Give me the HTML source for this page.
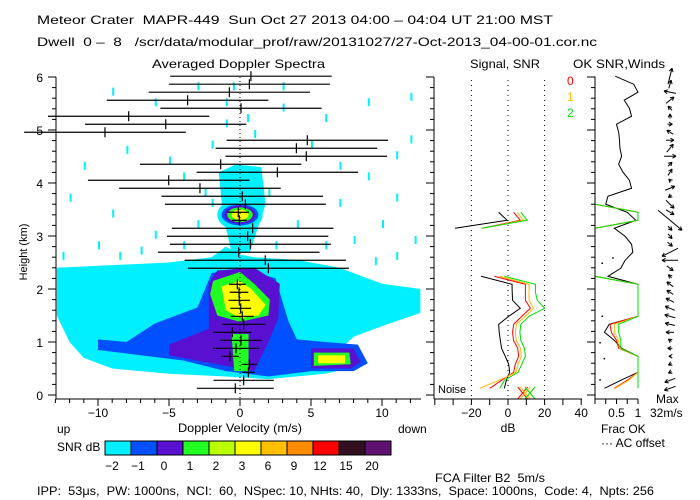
<!DOCTYPE html>
<html><head><meta charset="utf-8"><style>
html,body{margin:0;padding:0;background:#fff}
svg{display:block}
text{font-family:"Liberation Sans",sans-serif;font-size:12px;fill:#000;white-space:pre}
</style></head><body>
<svg id="c" width="700" height="500" viewBox="0 0 700 500">
<text x="37" y="24" textLength="516" lengthAdjust="spacingAndGlyphs">Meteor Crater  MAPR-449  Sun Oct 27 2013 04:00 – 04:04 UT 21:00 MST</text>
<text x="37" y="46" textLength="560" lengthAdjust="spacingAndGlyphs">Dwell  0 –  8   /scr/data/modular_prof/raw/20131027/27-Oct-2013_04-00-01.cor.nc</text>
<text x="152" y="68" textLength="173" lengthAdjust="spacingAndGlyphs">Averaged Doppler Spectra</text>
<text x="470" y="68" textLength="70" lengthAdjust="spacingAndGlyphs">Signal, SNR</text>
<text x="573" y="68" textLength="92" lengthAdjust="spacingAndGlyphs">OK SNR,Winds</text>
<text x="567" y="85" style="fill:#f00">0</text>
<text x="567" y="101" style="fill:#fb0">1</text>
<text x="567" y="117" style="fill:#0d0">2</text>
<g id="spec"></g>
<g id="sig"></g>
<g id="ok"></g>
<g id="wind"></g>
<g id="axes"></g>
<text x="27" y="0" transform="translate(27,252) rotate(-90) translate(-27,0)" text-anchor="middle" style="font-size:11px">Height (km)</text>
<text x="240" y="432" text-anchor="middle" textLength="124" lengthAdjust="spacingAndGlyphs">Doppler Velocity (m/s)</text>
<text x="57" y="433">up</text>
<text x="398" y="433">down</text>
<text x="57" y="451">SNR dB</text>
<text x="508" y="432" text-anchor="middle">dB</text>
<text x="601" y="433">Frac OK</text>
<text x="601" y="447">··· AC offset</text>
<text x="656" y="403">Max</text>
<text x="650" y="417">32m/s</text>
<text x="438" y="393" style="font-size:11px">Noise</text>
<text x="435" y="482" textLength="110" lengthAdjust="spacingAndGlyphs">FCA Filter B2  5m/s</text>
<text x="37" y="495" textLength="617" lengthAdjust="spacingAndGlyphs">IPP:  53μs,  PW: 1000ns,  NCI:  60,  NSpec: 10, NHts: 40,  Dly: 1333ns,  Space: 1000ns,  Code: 4,  Npts: 256</text>
<g id="cbar"></g>
</svg>
<script>
// ---- data ----
const gateHeights = [];
for (let i = 0; i < 40; i++) gateHeights.push(0.126 + 0.151 * i);
const meanVel = [-0.33,0.26,0.59,0.66,-0.70,-0.28,0.07,-0.54,0.26,0.16,0.05,-0.05,-0.07,-0.19,null,2.0,1.78,-0.09,0.73,0.54,0.89,-0.05,-0.12,0.38,0.16,-2.82,-5.02,2.63,-1.36,4.67,3.97,4.74,-9.51,-5.23,-7.84,0.07,-3.69,-0.75,0.66,0.77];
const halfWidth = [2.71,2.12,0.43,0.56,0.62,1.63,1.46,1.35,1.53,0.81,0.74,0.76,0.66,0.59,null,5.67,5.68,5.69,5.67,5.68,5.69,0.53,0.75,5.67,5.69,5.69,5.69,5.69,5.68,5.69,5.69,5.68,5.69,5.68,5.68,5.68,5.69,5.68,5.67,5.69];
const signalDb = [-2,-0.9,0.9,0.4,-1.5,-3.5,-4.2,-4.8,-5.1,0.4,6.7,2.5,2.3,2.2,-14.7,null,null,null,null,null,-29,-0.5,-5.1];
const snr0 = [-10,-3.5,3.1,4,5.8,5.3,3,2.5,3.1,7.6,12.2,9.5,9.5,9.5,-7.5,null,null,null,null,null,-14.2,6.7,3.1];
const snr1 = [-15.5,-5,4.5,5.5,7.3,6.8,4.5,4,4.6,9.5,14,11.5,11.5,11.5,-4.4,null,null,null,null,null,-14,8.5,5];
const snr2 = [-4.5,-2,5.5,7.5,9.5,9,7,6.5,7,11.5,20,16,15,15,-2,null,null,null,null,null,-14.5,10.5,7];
const noiseDb = [8, 9.5, 12];
const fracOk0 = [0.45,0.75,1,1,1,0.55,0.5,0.38,0.35,1,1,1,1,1,0,0,0,0,0,0,0,1,1,0,0,0,0,0,0,0,0,0,0,0,0,0,0,0,0,0];
const fracOk1 = [0.47,0.78,1,1,1,0.57,0.55,0.45,0.45,1,1,1,1,1,0,0,0,0,0,0,0,1,1,0,0,0,0,0,0,0,0,0,0,0,0,0,0,0,0,0];
const fracOk2 = [1,1,1,1,1,0.6,0.6,0.55,0.55,1,1,1,1,1,0,0,0,0,0,0,0,1,1,0,0,0,0,0,0,0,0,0,0,0,0,0,0,0,0,0];
const fracWind = [0.22,0.6,1,1,1,0.62,0.45,0.22,0.33,1,1,1,1,1,0.3,0.6,0.7,0.88,0.85,0.7,0.45,0.95,0.75,0.25,0.3,0.85,0.8,0.65,0.55,0.62,0.58,0.57,0.55,0.5,0.85,0.8,0.68,1.0,0.9,0.47];
const windU = [-14,-13,-4,-4,-3,-6,-4,-10,-12,-13,-12,-10,-8,-8,-4,8,-20,-20,6,5,5,30,10,10,-4,12,-3,5,5,15,8,10,-8,6,0,-5,10,-15,3,5];
const windV = [-5,-5,-2,-2,0,0,3,0,3,4,5,5,5,6,4,-6,0,-10,-5,-6,-5,-25,-6,-10,-3,5,3,8,5,0,10,0,5,0,6,5,8,3,10,20];
const cbarLabels = ["-2","-1","0","1","2","3","6","9","12","15","20"];
const cbarColors = ["#00f0ff","#0050ff","#5a10d0","#20ff20","#b8ff00","#ffff00","#ffc000","#ff8c00","#ff0000","#301020","#601070"];
// spectra contour regions: [v, km] vertices
const regCyan = [[-12.9,2.4],[-9,2.45],[-5,2.5],[-2,2.6],[-1,2.8],[0,2.65],[1,2.6],[4,2.55],[7,2.4],[10,2.1],[12.7,2.0],[12.7,1.55],[10,1.3],[8,1.1],[7.2,0.9],[8.5,0.55],[6,0.4],[2,0.3],[-1,0.35],[-5,0.4],[-9,0.5],[-11,0.7],[-12,1.0],[-12.9,1.5]];
const regCyanCol = [[-0.6,2.7],[-1.2,3.4],[-1.5,4.2],[-0.3,4.35],[1.5,4.3],[1.8,3.6],[0.7,2.7]];
const regBlue = [[-10,1.05],[-8,1.0],[-6,1.35],[-3,1.65],[-2,2.3],[0,2.4],[2.5,2.2],[3.4,1.4],[4,1.05],[6,1.0],[8.3,0.95],[9,0.6],[8,0.45],[5,0.45],[2,0.35],[-1,0.45],[-4,0.65],[-7,0.75],[-10,0.85]];
const regPurple = [[-5,0.95],[-2.2,1.25],[-2.2,2.1],[-1.6,2.35],[1,2.4],[2.8,2.1],[2.7,1.45],[2,1.0],[1,0.45],[-1,0.55],[-5,0.75]];
const regPurple2 = [[5,0.88],[8,0.88],[8.5,0.62],[7.8,0.5],[5,0.5]];
const regGreen = [[-1.9,2.15],[0,2.32],[1,2.1],[2.1,1.8],[2,1.5],[0,1.38],[-1.6,1.5],[-2.1,1.9]];
const regYellow = [[-1.3,2.05],[0,2.15],[0.8,2.0],[1.8,1.7],[1.3,1.5],[0,1.45],[-1.0,1.6]];
const regGreenStrip = [[-0.6,1.15],[0.6,1.15],[0.6,0.45],[-0.4,0.45]];
const regGreen2 = [[5.2,0.8],[7.7,0.8],[7.8,0.58],[5.2,0.55]];
const regYellow2 = [[5.5,0.75],[7.4,0.75],[7.4,0.6],[5.5,0.6]];
const blob3km = [[0,3.4,1.6,0.3,"#00f0ff"],[0,3.4,1.3,0.2,"#0050ff"],[0,3.4,1.1,0.17,"#5a10d0"],[0,3.4,0.9,0.14,"#20ff20"],[0,3.4,0.6,0.1,"#ffff00"]];
const speckles = [[-9,5.8],[-6,5.6],[-3,5.9],[-8,4.7],[-11,4.4],[-4,4.2],[-2,3.7],[-9,3.5],[-6,3.1],[3,5.5],[5,4.8],[7,4.4],[9,4.2],[11,4.6],[12,4.9],[10,3.3],[8,3.0],[6,2.9],[11,2.7],[4,3.3],[-10,2.9],[-12,3.8],[-7,2.8],[-4,2.9],[3,5.9],[6,5.3],[9,5.6],[12,5.7],[-1,5.2],[1,5.0],[-2,4.8],[11,3.8],[12.3,3.0],[-12.5,2.7],[-5,4.5],[2,3.9],[7,3.7],[-3,3.3],[9.5,2.6],[-8.5,2.7],[-1,5.6],[-0.5,5.9],[0.5,5.3],[-2.5,3.9],[2.5,2.9]];
// ---- helpers ----
const NS = "http://www.w3.org/2000/svg";
const xV = v => 240 + v * 14.2;
const yH = h => 395 - h * 53;
const xDB = d => 508 + d * 1.83;
const xF = f => 595 + f * 43;
function mk(tag, parent, attrs) {
  const e = document.createElementNS(NS, tag);
  for (const k in attrs) e.setAttribute(k, attrs[k]);
  parent.appendChild(e);
  return e;
}
const spec = document.getElementById("spec");
function region(pts, color, name) {
  const p = mk("polygon", spec, {points: pts.map(q => xV(q[0]) + "," + yH(q[1])).join(" "), fill: color});
  
  
}
speckles.forEach(s => {
  const r = mk("rect", spec, {x: xV(s[0]), y: yH(s[1]), width: 2, height: 8, fill: "#00f0ff"});
  
  
});
region(regCyan, "#00f0ff", "snr-region-cyan");
region(regCyanCol, "#00f0ff", "snr-region-cyan-column");
region(regBlue, "#0050ff", "snr-region-blue");
region(regPurple, "#5a10d0", "snr-region-purple");
region(regPurple2, "#5a10d0", "snr-region-purple-right");
region(regGreen, "#20ff20", "snr-region-green");
region(regYellow, "#ffff00", "snr-region-yellow");
region(regGreenStrip, "#20ff20", "snr-region-green-strip");
region(regGreen2, "#20ff20", "snr-region-green-right");
region(regYellow2, "#ffff00", "snr-region-yellow-right");
blob3km.forEach(b => {
  const e = mk("ellipse", spec, {cx: xV(b[0]), cy: yH(b[1]), rx: b[2] * 14.2, ry: b[3] * 53, fill: b[4]});
  
  
});
mk("line", spec, {x1: xV(0), y1: 77, x2: xV(0), y2: 399, stroke: "#000", "stroke-dasharray": "1,3"});
gateHeights.forEach((h, i) => {
  if (meanVel[i] === null) return;
  const y = yH(h);
  const l = mk("line", spec, {x1: xV(meanVel[i] - halfWidth[i]), y1: y, x2: xV(meanVel[i] + halfWidth[i]), y2: y, stroke: "#000", "stroke-width": 1.2});
  
  
  const t = mk("line", spec, {x1: xV(meanVel[i]), y1: y - 5, x2: xV(meanVel[i]), y2: y + 5, stroke: "#000", "stroke-width": 1.2});
  
  
});
// signal panel
const sig = document.getElementById("sig");
[-20, 0, 20].forEach(d => mk("line", sig, {x1: xDB(d), y1: 80, x2: xDB(d), y2: 399, stroke: "#000", "stroke-dasharray": "1,4"}));
function series(g, vals, fx, color, name) {
  let seg = [];
  const segs = [];
  vals.forEach((v, i) => {
    if (v === null) { if (seg.length) segs.push(seg); seg = []; }
    else seg.push(fx(v) + "," + yH(gateHeights[i]));
  });
  if (seg.length) segs.push(seg);
  segs.forEach(s => {
    const p = mk("polyline", g, {points: s.join(" "), fill: "none", stroke: color, "stroke-width": 1});
    
    
  });
}
series(sig, signalDb, xDB, "#000", "signal-line");
series(sig, snr0, xDB, "#f00", "snr-beam-0");
series(sig, snr1, xDB, "#fb0", "snr-beam-1");
series(sig, snr2, xDB, "#0d0", "snr-beam-2");
["#f00", "#fb0", "#0d0"].forEach((c, k) => {
  const x = xDB(noiseDb[k]), y = 393;
  const g = mk("g", sig, {stroke: c});
  
  
  mk("line", g, {x1: x - 5, y1: y - 6, x2: x + 5, y2: y + 6});
  mk("line", g, {x1: x - 5, y1: y + 6, x2: x + 5, y2: y - 6});
});
// ok panel
const ok = document.getElementById("ok");
series(ok, fracWind, xF, "#000", "wind-frac-ok-line");
series(ok, fracOk0, xF, "#f00", "frac-ok-beam-0");
series(ok, fracOk1, xF, "#fb0", "frac-ok-beam-1");
series(ok, fracOk2, xF, "#0d0", "frac-ok-beam-2");
[[0.15,1.5],[0.1,1.0],[0.2,0.7],[0.1,0.3],[0.15,2.5],[0.4,2.6]].forEach(d => mk("rect", ok, {x: xF(d[0]), y: yH(d[1]), width: 1.5, height: 1.5, fill: "#000"}));
// winds
const wind = document.getElementById("wind");
gateHeights.forEach((h, i) => {
  const s = 0.8;
  const xc = 670, yc = yH(h);
  const dx = windU[i] * s, dy = -windV[i] * s;
  const x0 = xc - dx / 2, y0 = yc - dy / 2, x1 = xc + dx / 2, y1 = yc + dy / 2;
  const g = mk("g", wind, {stroke: "#000", "stroke-width": 1});
  
  
  mk("line", g, {x1: x0, y1: y0, x2: x1, y2: y1});
  const a = Math.atan2(y1 - y0, x1 - x0), L = 4;
  mk("line", g, {x1: x1, y1: y1, x2: x1 - L * Math.cos(a - 0.5), y2: y1 - L * Math.sin(a - 0.5)});
  mk("line", g, {x1: x1, y1: y1, x2: x1 - L * Math.cos(a + 0.5), y2: y1 - L * Math.sin(a + 0.5)});
});
// axes
const ax = document.getElementById("axes");
function ln(x1, y1, x2, y2) { mk("line", ax, {x1, y1, x2, y2, stroke: "#000", "stroke-width": 1}); }
function txt(x, y, s, anchor) { const t = mk("text", ax, {x, y, "text-anchor": anchor || "middle"}); t.textContent = s; return t; }
ln(56, 77, 56, 399); ln(56, 399, 421, 399);
for (let h = 0; h <= 6.0001; h += 0.2) { const y = yH(h); const maj = Math.abs(h - Math.round(h)) < 1e-6; ln(maj ? 48 : 52, y, 56, y); }
for (let k = 0; k <= 6; k++) txt(43, yH(k) + 5, String(k), "end");
for (let v = -13; v <= 12; v++) { const x = xV(v); ln(x, 399, x, v % 5 === 0 ? 406 : 403); }
[-10, -5, 0, 5, 10].forEach(v => txt(xV(v), 417, v < 0 ? "−" + Math.abs(v) : String(v)));
ln(434, 77, 434, 399); ln(434, 399, 582, 399);
for (let h = 0; h <= 6.0001; h += 0.2) { const y = yH(h); const maj = Math.abs(h - Math.round(h)) < 1e-6; ln(maj ? 426 : 430, y, 434, y); }
for (let d = -40; d <= 40; d += 10) ln(xDB(d), 399, xDB(d), 405);
[-20, 0, 20, 40].forEach(d => txt(xDB(d), 417, d < 0 ? "−" + Math.abs(d) : String(d)));
ln(595, 77, 595, 399); ln(595, 399, 638, 399);
for (let h = 0; h <= 6.0001; h += 0.2) { const y = yH(h); const maj = Math.abs(h - Math.round(h)) < 1e-6; ln(maj ? 587 : 591, y, 595, y); }
for (let f = 0; f <= 1.0001; f += 0.25) ln(xF(f), 399, xF(f), 404);
txt(xF(0.5), 417, "0.5"); txt(xF(1), 417, "1");
// color bar
const cb = document.getElementById("cbar");
cbarColors.forEach((c, i) => {
  const r = mk("rect", cb, {x: 105 + i * 26, y: 441, width: 26, height: 14, fill: c, stroke: "#000", "stroke-width": 1});
  
  
  const t = mk("text", cb, {x: 112 + i * 26, y: 470, "text-anchor": "middle"});
  
  
  t.textContent = cbarLabels[i].replace("-", "−");
});
</script>
</body></html>
